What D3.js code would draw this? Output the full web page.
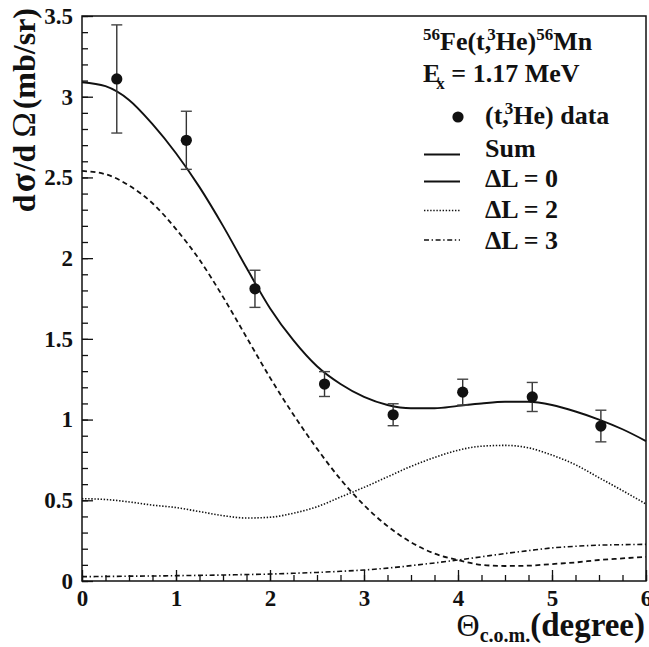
<!DOCTYPE html>
<html>
<head>
<meta charset="utf-8">
<script src="https://cdn.jsdelivr.net/npm/d3@7"></script>
<style>
  html, body { margin: 0; padding: 0; background: #fff; }
  svg { display: block; }
  text { font-family: "Liberation Serif", "Times New Roman", serif; font-weight: bold; fill: #111; }
</style>
</head>
<body>
<svg id="chart" width="649" height="647"></svg>
<script>
// Measured (t,3He) differential cross sections
const dataAngle = [0.37, 1.11, 1.84, 2.58, 3.31, 4.05, 4.79, 5.52];
const dataSigma = [3.11, 2.73, 1.81, 1.22, 1.03, 1.17, 1.14, 0.96];
const dataError = [0.335, 0.18, 0.115, 0.077, 0.068, 0.08, 0.09, 0.098];

// DWBA curves sampled on a 0.25 degree grid
const curveAngle = [0, 0.25, 0.5, 0.75, 1, 1.25, 1.5, 1.75, 2, 2.25, 2.5, 2.75, 3,
                    3.25, 3.5, 3.75, 4, 4.25, 4.5, 4.75, 5, 5.25, 5.5, 5.75, 6];
const sumCurve = [3.09, 3.065, 2.98, 2.83, 2.65, 2.44, 2.20, 1.94, 1.69, 1.49, 1.33, 1.22, 1.14,
                  1.09, 1.07, 1.07, 1.085, 1.10, 1.11, 1.11, 1.09, 1.05, 1.00, 0.94, 0.867];
const dL0Curve = [2.54, 2.52, 2.45, 2.34, 2.18, 1.99, 1.76, 1.51, 1.26, 1.03, 0.82, 0.63, 0.47,
                  0.34, 0.24, 0.17, 0.13, 0.10, 0.093, 0.095, 0.105, 0.115, 0.13, 0.14, 0.15];
const dL2Curve = [0.51, 0.505, 0.49, 0.47, 0.455, 0.43, 0.405, 0.39, 0.395, 0.42, 0.46, 0.52, 0.58,
                  0.645, 0.71, 0.765, 0.81, 0.835, 0.84, 0.825, 0.78, 0.72, 0.64, 0.56, 0.477];
const dL3Curve = [0.027, 0.028, 0.03, 0.031, 0.033, 0.035, 0.037, 0.04, 0.043, 0.048, 0.053, 0.06, 0.068,
                  0.08, 0.095, 0.112, 0.13, 0.15, 0.17, 0.188, 0.205, 0.215, 0.222, 0.225, 0.227];

// Axis ticks
const xMajorTicks = [0, 1, 2, 3, 4, 5, 6];
const yMajorTicks = [0, 0.5, 1, 1.5, 2, 2.5, 3, 3.5];

const SERIF = "'Liberation Serif', 'Times New Roman', serif";
const svg = d3.select("#chart");
const margin = { left: 82, top: 16, right: 3, bottom: 66 };
const W = 649 - margin.left - margin.right;
const H = 647 - margin.top - margin.bottom;

const x = d3.scaleLinear().domain([0, 6]).range([0, W]);
const y = d3.scaleLinear().domain([0, 3.5]).range([H, 0]);

const g = svg.append("g").attr("transform", `translate(${margin.left},${margin.top})`);

// Curves
const line = d3.line().curve(d3.curveMonotoneX);
function drawCurve(values, dash, width) {
  g.append("path")
    .attr("d", line(curveAngle.map((a, i) => [x(a), y(values[i])])))
    .attr("fill", "none")
    .attr("stroke", "#111")
    .attr("stroke-width", width)
    .attr("stroke-dasharray", dash);
}
drawCurve(dL3Curve, "5,2.6,1.4,2.6", 1.6);
drawCurve(dL2Curve, "1.4,1.7", 1.6);
drawCurve(dL0Curve, "5,3.5", 1.8);
drawCurve(sumCurve, null, 1.9);

// Data with error bars
const pts = g.append("g");
dataAngle.forEach((a, i) => {
  const cx = x(a), lo = y(dataSigma[i] - dataError[i]), hi = y(dataSigma[i] + dataError[i]);
  pts.append("line").attr("x1", cx).attr("x2", cx).attr("y1", lo).attr("y2", hi)
    .attr("stroke", "#333").attr("stroke-width", 1.4);
  [lo, hi].forEach(v => pts.append("line")
    .attr("x1", cx - 5.5).attr("x2", cx + 5.5).attr("y1", v).attr("y2", v)
    .attr("stroke", "#444").attr("stroke-width", 1.4));
  pts.append("circle").attr("cx", cx).attr("cy", y(dataSigma[i])).attr("r", 5.6).attr("fill", "#111");
});

// Axes with inward ticks
const fmt = d => d3.format("~g")(d);
const xMinor = d3.range(0, 6.001, 0.25);
const yMinor = d3.range(0, 3.501, 0.1);

const xAxisG = g.append("g").attr("transform", `translate(0,${H})`);
xAxisG.append("g").call(d3.axisBottom(x).tickValues(xMinor).tickSize(-6).tickFormat(""));
xAxisG.append("g").call(d3.axisBottom(x).tickValues(xMajorTicks).tickSize(-11).tickPadding(9).tickFormat(fmt));
const yAxisG = g.append("g");
yAxisG.append("g").call(d3.axisLeft(y).tickValues(yMinor).tickSize(-6).tickFormat(""));
yAxisG.append("g").call(d3.axisLeft(y).tickValues(yMajorTicks).tickSize(-11).tickPadding(9).tickFormat(fmt));

svg.selectAll(".domain").remove();
svg.selectAll(".tick line").attr("stroke", "#111").attr("stroke-width", 1.3);
svg.selectAll(".tick text")
  .style("font-family", SERIF)
  .style("font-weight", "bold")
  .style("font-size", "23px")
  .style("fill", "#111");

// Frame
g.append("rect").attr("width", W).attr("height", H)
  .attr("fill", "none").attr("stroke", "#111").attr("stroke-width", 1.5);

// Axis titles
const xt = svg.append("text")
  .attr("x", 645).attr("y", 636)
  .attr("text-anchor", "end").style("font-size", "33px");
xt.append("tspan").style("font-weight", "normal").style("font-size", "32px").text("Θ");
xt.append("tspan").style("font-size", "20px").attr("dy", 6).text("c.o.m.");
xt.append("tspan").attr("dy", -6).text("(degree)");

const yt = svg.append("text")
  .attr("transform", "translate(35,8) rotate(-90)")
  .attr("text-anchor", "end").style("font-size", "32px");
yt.append("tspan").text("d");
yt.append("tspan").attr("dx", 2).style("font-size", "35px").text("σ");
yt.append("tspan").attr("dx", 2).text("/d");
yt.append("tspan").attr("dx", 7).style("font-weight", "normal").style("font-size", "34px").text("Ω");
yt.append("tspan").attr("dx", 3).text("(mb/sr)");

// Legend
const leg = svg.append("g");
const t1 = leg.append("text").attr("x", 423).attr("y", 50).style("font-size", "26px");
t1.append("tspan").style("font-size", "17px").attr("dy", -10).text("56");
t1.append("tspan").attr("dy", 10).text("Fe(t,");
t1.append("tspan").style("font-size", "17px").attr("dy", -10).attr("dx", -4).text("3");
t1.append("tspan").attr("dy", 10).text("He)");
t1.append("tspan").style("font-size", "17px").attr("dy", -10).text("56");
t1.append("tspan").attr("dy", 10).text("Mn");

const t2 = leg.append("text").attr("x", 423).attr("y", 82).style("font-size", "26px");
t2.append("tspan").text("E");
t2.append("tspan").style("font-size", "17px").attr("dy", 7).attr("dx", -4).text("x");
t2.append("tspan").attr("dy", -7).text(" = 1.17 MeV");

const legendItems = [
  { label: ["(t,", "3", "He) data"], kind: "marker" },
  { label: ["Sum"], kind: "line", dash: null },
  { label: ["ΔL = 0"], kind: "line", dash: null },
  { label: ["ΔL = 2"], kind: "line", dash: "1.4,1.7" },
  { label: ["ΔL = 3"], kind: "line", dash: "5,2.6,1.4,2.6" }
];
const legMarkY = [117, 154.5, 181.5, 210.5, 240];
const legTextY = [124, 156.5, 187, 218, 248.5];
legendItems.forEach((it, i) => {
  const cy = legMarkY[i];
  if (it.kind === "marker") {
    leg.append("circle").attr("cx", 458).attr("cy", cy).attr("r", 5.6).attr("fill", "#111");
  } else {
    leg.append("line").attr("x1", 424).attr("x2", 460).attr("y1", cy).attr("y2", cy)
      .attr("stroke", "#111").attr("stroke-width", it.dash ? 1.4 : 1.8)
      .attr("stroke-dasharray", it.dash);
  }
  const t = leg.append("text").attr("x", 485).attr("y", legTextY[i]).style("font-size", "26px");
  if (it.label.length === 3) {
    t.append("tspan").text(it.label[0]);
    t.append("tspan").style("font-size", "17px").attr("dy", -10).attr("dx", -4).text(it.label[1]);
    t.append("tspan").attr("dy", 10).text(it.label[2]);
  } else {
    t.text(it.label[0]);
  }
});
</script>
</body>
</html>
